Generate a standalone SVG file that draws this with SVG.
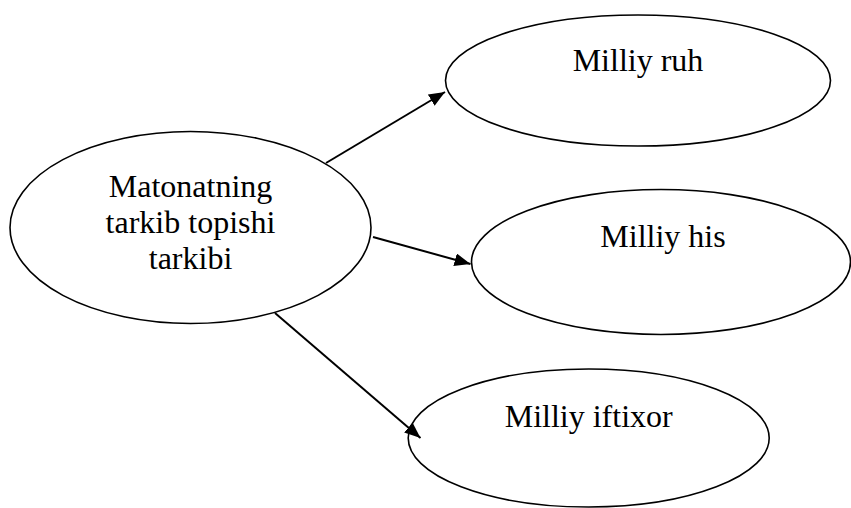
<svg xmlns="http://www.w3.org/2000/svg" width="851" height="508" viewBox="0 0 851 508">
  <style>
    .node ellipse { fill: #ffffff; stroke: #000000; stroke-width: 1.6; }
    .node text { font-family: "Liberation Serif", "Times New Roman", serif; font-size: 32px; fill: #000000; text-anchor: middle; }
    .edge { stroke: #000000; stroke-width: 2; fill: none; marker-end: url(#arrow); }
  </style>
  <defs>
    <marker id="arrow" markerUnits="userSpaceOnUse" markerWidth="17" markerHeight="14" refX="16" refY="6.5" orient="auto">
      <path d="M0,0 L16,6.5 L0,13 z" fill="#000000"/>
    </marker>
  </defs>
  <rect width="851" height="508" fill="#ffffff"/>
  <g id="center">
    <g class="node">
      <ellipse cx="190.5" cy="227.5" rx="180.5" ry="96"/>
      <text x="190.5" y="197">Matonatning</text>
      <text x="190.5" y="233">tarkib topishi</text>
      <text x="190.5" y="269">tarkibi</text>
    </g>
  </g>
  <g id="milliy-ruh" class="node">
    <ellipse cx="638" cy="80.5" rx="192.5" ry="65.5"/>
    <text x="638" y="71">Milliy ruh</text>
  </g>
  <g id="milliy-his" class="node">
    <ellipse cx="661" cy="262" rx="189.5" ry="72.5"/>
    <text x="663" y="247">Milliy his</text>
  </g>
  <g id="milliy-iftixor" class="node">
    <ellipse cx="588.7" cy="438" rx="180.5" ry="69"/>
    <text x="588.7" y="427">Milliy iftixor</text>
  </g>
  <g id="connectors">
    <line class="edge" x1="326" y1="163" x2="445" y2="92"/>
    <line class="edge" x1="373" y1="237" x2="470.5" y2="264"/>
    <line class="edge" x1="275" y1="313" x2="420.5" y2="438"/>
  </g>
</svg>
